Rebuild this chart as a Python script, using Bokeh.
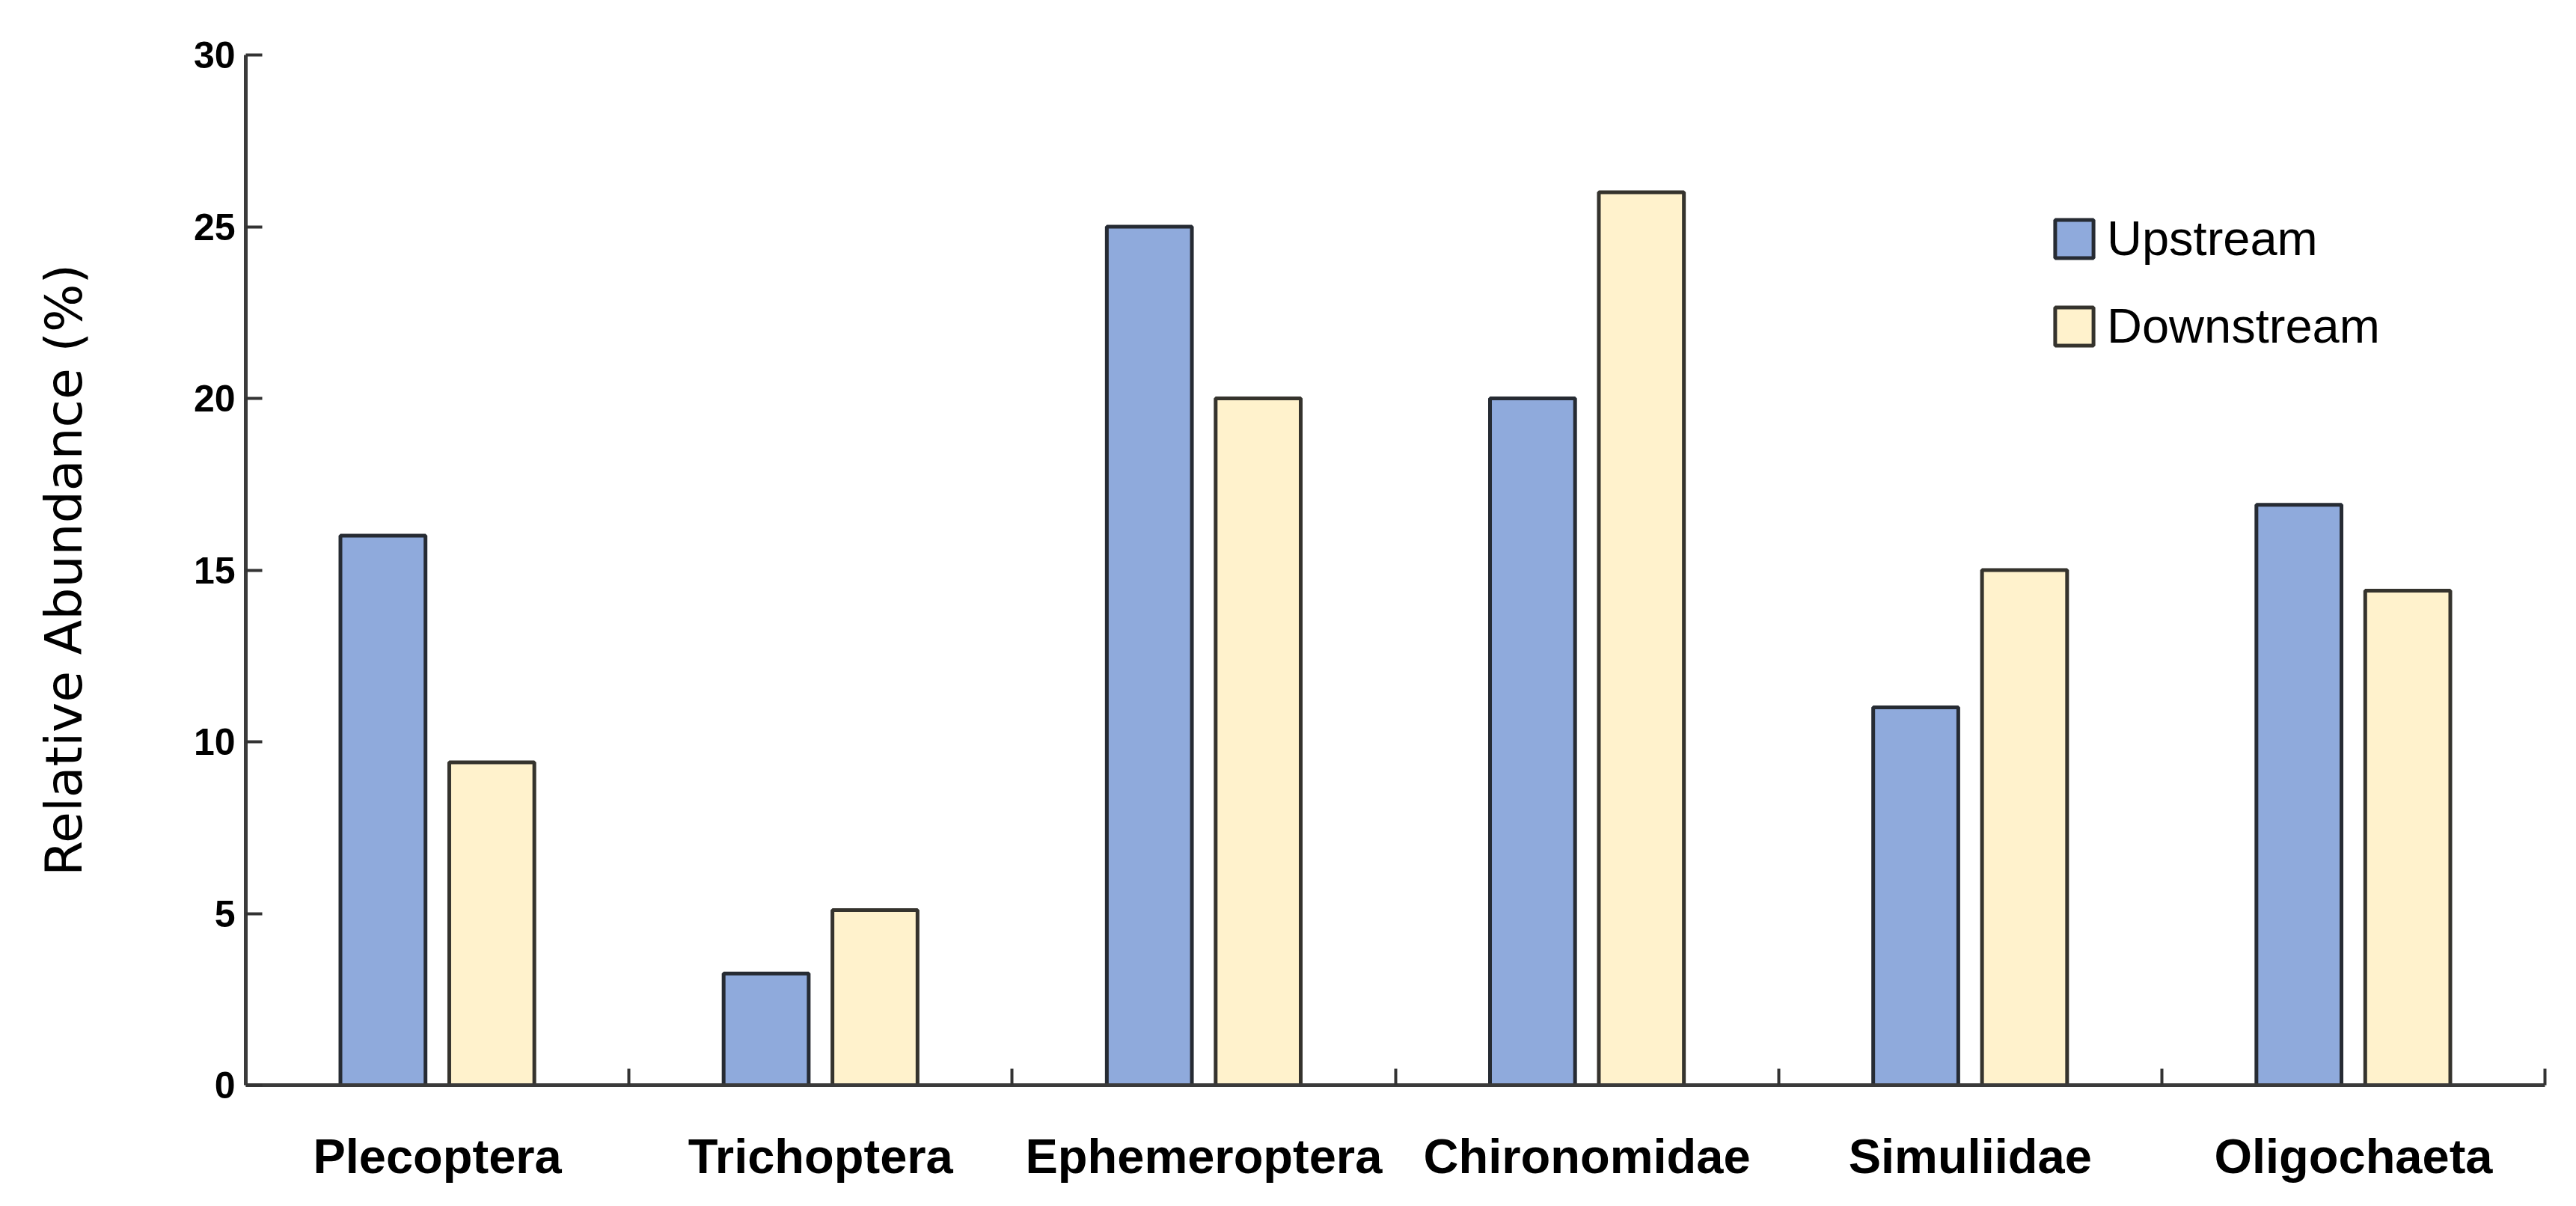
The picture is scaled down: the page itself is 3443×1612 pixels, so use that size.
from bokeh.plotting import figure
from bokeh.models import Range1d, FixedTicker, Legend, LegendItem, ColumnDataSource
from bokeh.embed import file_html
from bokeh.resources import INLINE

categories = ["Plecoptera", "Trichoptera", "Ephemeroptera", "Chironomidae", "Simuliidae", "Oligochaeta"]
upstream = [16.0, 3.25, 25.0, 20.0, 11.0, 16.9]
downstream = [9.4, 5.1, 20.0, 26.0, 15.0, 14.4]
y_ticks = [0, 5, 10, 15, 20, 25, 30]

SANS = "Liberation Sans"
FONT = "DejaVu Sans"
centers = [i + 0.5 for i in range(len(categories))]
offset = 0.142
bar_w = 0.222

p = figure(width=3427, height=1596, output_backend="svg", toolbar_location=None,
           x_range=Range1d(0, len(categories)), y_range=Range1d(0, 30),
           min_border_left=328, min_border_right=26, min_border_top=73, min_border_bottom=146)
p.outline_line_color = None
p.grid.visible = False
p.background_fill_color = "white"
p.border_fill_color = "white"

src_up = ColumnDataSource(dict(x=[c - offset for c in centers], top=upstream))
src_dn = ColumnDataSource(dict(x=[c + offset for c in centers], top=downstream))
r_up = p.vbar(x="x", top="top", width=bar_w, bottom=0, source=src_up,
              fill_color="#8FAADC", line_color="#262b33", line_width=5)
r_dn = p.vbar(x="x", top="top", width=bar_w, bottom=0, source=src_dn,
              fill_color="#FFF2CC", line_color="#35332d", line_width=5)

# x axis
xa = p.xaxis[0]
xa.ticker = FixedTicker(ticks=centers, minor_ticks=list(range(1, len(categories) + 1)))
xa.major_label_overrides = {c: name for c, name in zip(centers, categories)}
xa.major_tick_in = 0
xa.major_tick_out = 0
xa.minor_tick_in = 22
xa.minor_tick_out = 0
xa.minor_tick_line_width = 4
xa.minor_tick_line_color = "#333333"
xa.axis_line_width = 5
xa.axis_line_color = "#3a3a3a"
xa.major_label_text_font = SANS
xa.major_label_text_font_style = "bold"
xa.major_label_text_font_size = "65px"
xa.major_label_text_color = "black"
xa.major_label_standoff = 58

# y axis
ya = p.yaxis[0]
ya.ticker = FixedTicker(ticks=y_ticks, minor_ticks=[])
ya.major_tick_in = 22
ya.major_tick_out = 0
ya.major_tick_line_width = 4
ya.major_tick_line_color = "#333333"
ya.axis_line_width = 5
ya.axis_line_color = "#3a3a3a"
ya.major_label_text_font = SANS
ya.major_label_text_font_style = "bold"
ya.major_label_text_font_size = "50px"
ya.major_label_text_color = "black"
ya.major_label_standoff = 14
ya.axis_label = "Relative Abundance (%)"
ya.axis_label_text_font = FONT
ya.axis_label_text_font_style = "normal"
ya.axis_label_text_font_size = "68px"
ya.axis_label_text_color = "black"
ya.axis_label_standoff = 131

legend = Legend(items=[LegendItem(label="Upstream", renderers=[r_up]),
                       LegendItem(label="Downstream", renderers=[r_dn])],
                location=(2412, 977), orientation="vertical",
                border_line_color=None, background_fill_alpha=0,
                padding=0, margin=0, spacing=42,
                glyph_width=64, glyph_height=64, label_standoff=12,
                label_text_font=SANS, label_text_font_size="65px", label_text_color="black",
                label_height=64)
p.add_layout(legend, "center")

open("out.html", "w").write(file_html(p, INLINE))
